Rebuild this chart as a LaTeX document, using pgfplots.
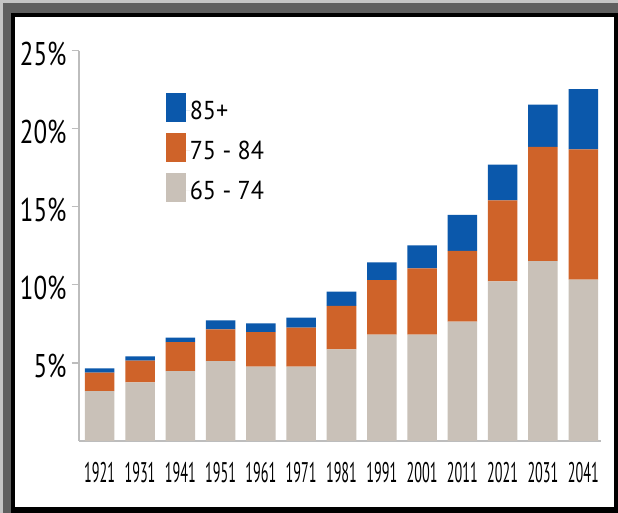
\documentclass[border=0pt]{standalone}
\usepackage{pgfplots}
\pgfplotsset{compat=1.18}
\usepackage{fontspec}
\setmainfont{PT Sans}
\newfontfamily\ylabfont{PT Sans}[FakeStretch=0.76]
\newfontfamily\xlabfont{PT Sans}[FakeStretch=0.5]
\newfontfamily\legfont{PT Sans}[FakeStretch=0.93]
\definecolor{cgray}{HTML}{C9C1B8}
\definecolor{corange}{HTML}{CF6329}
\definecolor{cblue}{HTML}{0B58AB}
\definecolor{axgray}{HTML}{BDBDBD}
\definecolor{lgray}{HTML}{C4C4C4}
\definecolor{dgray}{HTML}{5F5F5F}
\begin{document}
\begin{tikzpicture}[x=1bp,y=1bp]
\useasboundingbox (0,0) rectangle (618,513);
\fill[lgray] (0,0) rectangle (618,513);
\fill[dgray] (3,0) rectangle (618,510);
\fill[black] (11,0) rectangle (618,500);
\fill[white] (15,6) rectangle (614,496);
\begin{axis}[
  at={(79bp,72bp)}, anchor=south west, scale only axis,
  width=522bp, height=390.3bp,
  xmin=-0.514, xmax=12.44, ymin=0, ymax=25,
  axis x line=bottom, axis y line=left,
  axis line style={-, draw=axgray, line width=1.2bp},
  ybar stacked, bar width=29.5bp,
  xtick={0,...,12},
  xticklabels={1921,1931,1941,1951,1961,1971,1981,1991,2001,2011,2021,2031,2041},
  x tick style={draw=none},
  ytick={5,10,15,20,25},
  yticklabels={5\%,10\%,15\%,20\%,25\%},
  y tick style={draw=axgray, line width=1.2bp},
  tick align=outside, major tick length=7.3bp,
  yticklabel style={anchor=base east, inner sep=0pt, yshift=-15bp, xshift=-5bp,
    font=\ylabfont\fontsize{33}{33}\selectfont},
  xticklabel style={anchor=base, inner sep=0pt, yshift=-34.5bp,
    font=\xlabfont\fontsize{28.5}{28.5}\selectfont},
  legend image code/.code={\fill[#1] (0bp,-11bp) rectangle (20bp,17.5bp); \path (0bp,0bp) -- (24bp,0bp);},
  reverse legend,
  legend style={at={(rel axis cs:0.166,0.8916)}, anchor=north west, draw=none, fill=none,
    inner sep=0pt, row sep=11.5bp,
    nodes={inner sep=0pt, font=\legfont\fontsize{26}{26}\selectfont}},
  legend cell align=left,
]
\addplot[fill=cgray, draw=none] coordinates {(0,3.20) (1,3.76) (2,4.48) (3,5.12) (4,4.76) (5,4.76) (6,5.87) (7,6.81) (8,6.81) (9,7.64) (10,10.22) (11,11.52) (12,10.33)};
\addlegendentry{65 - 74}
\addplot[fill=corange, draw=none] coordinates {(0,1.18) (1,1.38) (2,1.86) (3,2.03) (4,2.22) (5,2.50) (6,2.79) (7,3.50) (8,4.25) (9,4.53) (10,5.19) (11,7.32) (12,8.35)};
\addlegendentry{75 - 84}
\addplot[fill=cblue, draw=none] coordinates {(0,0.27) (1,0.28) (2,0.28) (3,0.58) (4,0.56) (5,0.64) (6,0.90) (7,1.13) (8,1.47) (9,2.32) (10,2.30) (11,2.71) (12,3.86)};
\addlegendentry{85+}
\end{axis}
\end{tikzpicture}
\end{document}
